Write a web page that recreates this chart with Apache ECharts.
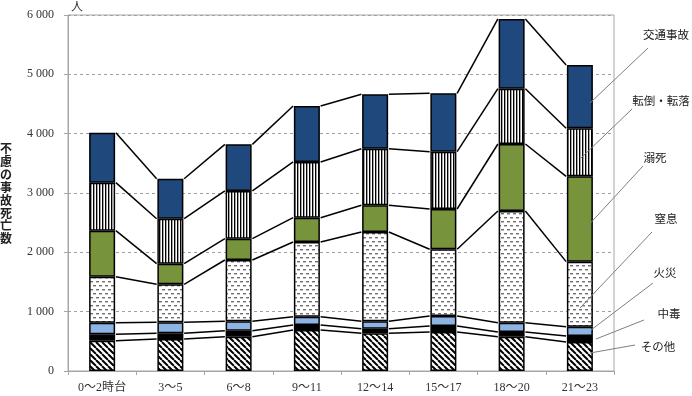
<!DOCTYPE html>
<html><head><meta charset="utf-8">
<script src="https://cdn.jsdelivr.net/npm/echarts@6/dist/echarts.min.js"></script>
<style>html,body{margin:0;padding:0;background:#fff}#c{width:692px;height:396px}</style>
</head><body><div id="c"></div><script>
const categories = ['0～2時台','3～5','6～8','9～11','12～14','15～17','18～20','21～23'];
const seriesNames = ['その他','中毒','火災','窒息','溺死','転倒・転落','交通事故'];
const other     = [511,539,579,691,635,657,579,489];
const poisoning = [107,96,101,84,78,101,78,101];
const fire      = [196,185,157,141,124,169,158,157];
const choking   = [776,641,1034,1258,1506,1124,1882,1096];
const drowning  = [775,348,359,410,449,679,1129,1438];
const falls     = [809,758,804,939,955,967,932,809];
const traffic   = [842,674,786,943,916,983,1175,1067];
const yMin = 0, yMax = 6000, yStep = 1000;

function pat(w,h,draw){
  const c=document.createElement('canvas');c.width=w;c.height=h;
  const g=c.getContext('2d');g.fillStyle='#fff';g.fillRect(0,0,w,h);draw(g);
  return {image:c,repeat:'repeat'};
}
const diag = pat(6,6,g=>{g.strokeStyle='#000';g.lineWidth=2;g.beginPath();
  for(const k of [-1,0,1]){g.moveTo(k*6,0);g.lineTo(k*6+6,6);} g.stroke();});
const dash = pat(6,8,g=>{g.fillStyle='#6e6e6e';g.fillRect(0,1,3,1.4);g.fillRect(3,5,3,1.4);});
const vstripe = pat(3,4,g=>{g.fillStyle='#000';g.fillRect(0,0,1,4);g.fillStyle='#666';g.fillRect(1,0,0.6,4);});

const stacks = [other,poisoning,fire,choking,drowning,falls,traffic];
const fills = [diag,'#000000','#8DB4E2',dash,'#77933C',vstripe,'#1F497D'];
const cum=[]; let run=categories.map(()=>0);
stacks.forEach(s=>{run=run.map((v,i)=>v+s[i]);cum.push(run.slice());});

const BAR_W = 26;
const chart = echarts.init(document.getElementById('c'));
const series = stacks.map((d,k)=>({
  name: seriesNames[k], type:'bar', stack:'all', barWidth:BAR_W, data:d,
  itemStyle:{color:fills[k], borderColor:'#000', borderWidth:1.5},
  emphasis:{disabled:true}
}));
series.push({
  type:'custom', data: categories.slice(0,-1).map((_,i)=>[i,0]), silent:true, z:3,
  renderItem(params, api){
    const i = api.value(0);
    const half = BAR_W/2 + 0.75;
    return {type:'group', children: cum.map(c=>{
      const p1=api.coord([i,c[i]]), p2=api.coord([i+1,c[i+1]]);
      return {type:'line', shape:{x1:p1[0]+half,y1:p1[1],x2:p2[0]-half,y2:p2[1]},
        style:{stroke:'#000',lineWidth:1.5}};
    })};
  }
});

const labelFont = 'Liberation Serif, Noto Sans CJK JP';
const ann = [
  {t:'交通事故', x:666, y:35, l:[648,48,590,103]},
  {t:'転倒・転落', x:661, y:101, l:[632,109,581,158]},
  {t:'溺死', x:655, y:158, l:[643,166,585,229]},
  {t:'窒息', x:666, y:219, l:[652,232,580,308]},
  {t:'火災', x:665, y:273, l:[653,283,591,330]},
  {t:'中毒', x:669, y:314, l:[644,320,596,339]},
  {t:'その他', x:658, y:347, l:[635,345,590,353]}
];
const graphic = [];
ann.forEach(a=>{
  graphic.push({type:'line', shape:{x1:a.l[0],y1:a.l[1],x2:a.l[2],y2:a.l[3]}, style:{stroke:'#7f7f7f',lineWidth:1}, z:10});
  graphic.push({type:'text', x:a.x, y:a.y, style:{text:a.t, font:'11.5px "Noto Sans CJK JP"', fill:'#222', align:'center', verticalAlign:'middle'}, z:10});
});
graphic.push({type:'text', x:6, y:142, style:{text:'不慮の事故死亡数'.split('').join('\n'), font:'bold 12px "Noto Sans CJK JP"', lineHeight:12.9, fill:'#222', align:'center', verticalAlign:'top'}});
graphic.push({type:'text', x:77, y:6, style:{text:'人', font:'12px "Noto Sans CJK JP"', fill:'#333', align:'center', verticalAlign:'middle'}});

chart.setOption({
  animation:false,
  grid:{left:68,right:78,top:15,bottom:25,show:true,borderColor:'#A6A6A6',borderWidth:1,containLabel:false},
  xAxis:{type:'category',data:categories,
    axisLine:{lineStyle:{color:'#A6A6A6',width:1}},
    axisTick:{show:true,length:4,lineStyle:{color:'#A6A6A6'}},
    axisLabel:{color:'#333',fontSize:12,margin:11,fontFamily:labelFont}},
  yAxis:{type:'value',min:yMin,max:yMax,interval:yStep,
    axisLine:{show:true,lineStyle:{color:'#A6A6A6',width:1}},
    axisTick:{show:true,length:4,lineStyle:{color:'#A6A6A6'}},
    splitLine:{show:true,lineStyle:{color:'#A0A0A0',type:[3,3],width:1}},
    axisLabel:{color:'#333',fontSize:12,margin:14,fontFamily:labelFont,
      formatter:v=>v>=1000?Math.floor(v/1000)+' '+String(v%1000).padStart(3,'0'):String(v)}},
  series,
  graphic
});
</script></body></html>
